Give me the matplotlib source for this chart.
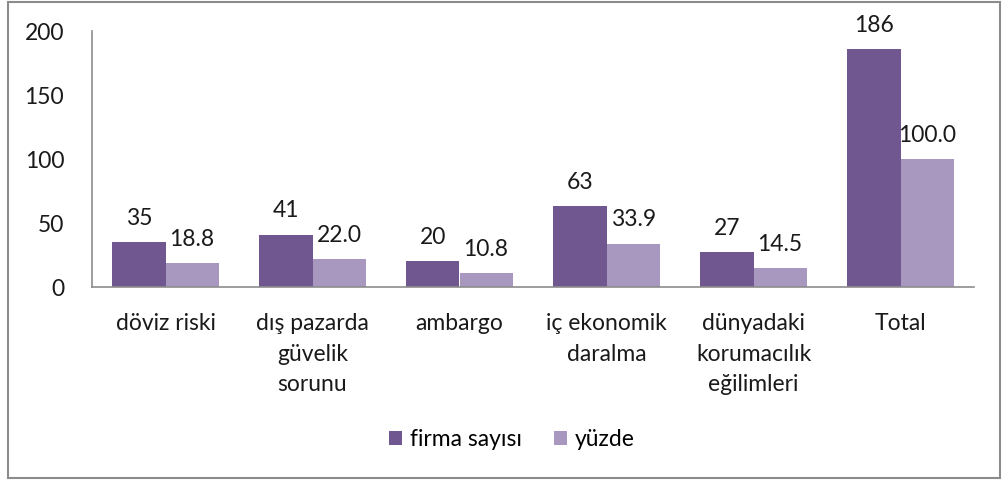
import matplotlib
matplotlib.use("Agg")
import matplotlib.pyplot as plt
import numpy as np
from matplotlib.patches import Rectangle

categories = ["döviz riski", "dış pazarda\ngüvelik\nsorunu", "ambargo",
              "iç ekonomik\ndaralma", "dünyadaki\nkorumacılık\neğilimleri", "Total"]
firma = [35, 41, 20, 63, 27, 186]
yuzde = [18.8, 22.0, 10.8, 33.9, 14.5, 100.0]
series_names = ["firma sayısı", "yüzde"]
yticks = [0, 50, 100, 150, 200]

c1 = "#70578f"
c2 = "#a898c0"
tc = "#1a1a1a"
fs = 16.5

plt.rcParams['font.family'] = ['Lato', 'DejaVu Sans']

fig = plt.figure(figsize=(10.06, 4.84), dpi=100)
fig.patches.append(Rectangle((8/1006, 6/484), 992/1006, 476/484, transform=fig.transFigure,
                             fill=False, edgecolor="#8c8c8c", linewidth=1.5))
ax = fig.add_axes([92/1006, 197/484, 882/1006, 256/484])

x = np.arange(len(categories))
w = 0.362
b1 = ax.bar(x - w/2, firma, w, color=c1, label=series_names[0])
b2 = ax.bar(x + w/2, yuzde, w, color=c2, label=series_names[1])

for bars, vals, fmt in ((b1, firma, "{:d}"), (b2, yuzde, "{:.1f}")):
    for r, v in zip(bars, vals):
        ax.annotate(fmt.format(v), (r.get_x() + r.get_width()/2, r.get_height()),
                    xytext=(0, 17), textcoords="offset points", ha="center", va="center",
                    fontsize=fs, color=tc)

ax.set_xlim(-0.5, len(categories) - 0.5)
ax.set_ylim(0, 200)
ax.set_yticks(yticks)
ax.set_xticks(x)
ax.set_xticklabels(categories, linespacing=1.55)
ax.tick_params(axis="both", length=0, labelsize=fs, colors=tc)
ax.tick_params(axis="y", pad=20)
ax.tick_params(axis="x", pad=19)
for s in ("top", "right"):
    ax.spines[s].set_visible(False)
for s in ("left", "bottom"):
    ax.spines[s].set_color("#8c8c8c")
    ax.spines[s].set_linewidth(1.2)

fig.legend(handles=[b1, b2], labels=series_names, loc="center", bbox_to_anchor=(512/1006, 1 - 440/484),
           ncol=2, frameon=False, fontsize=fs, handlelength=0.55, handleheight=0.55,
           handletextpad=0.35, columnspacing=1.4)

fig.savefig("out.png", dpi=100)
